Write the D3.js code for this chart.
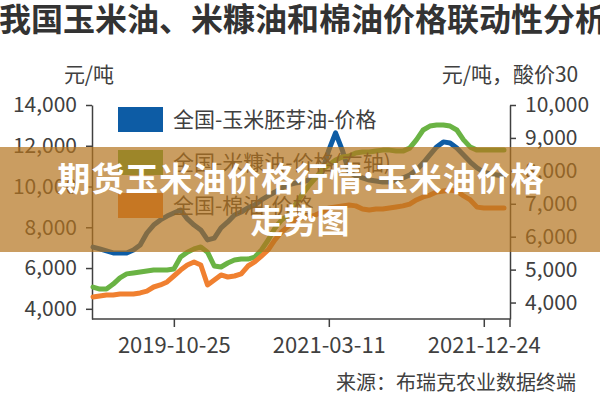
<!DOCTYPE html>
<html>
<head>
<meta charset="utf-8">
<script src="https://cdn.jsdelivr.net/npm/d3@7"></script>
<style>
body { margin: 0; background: #fff; }
svg { display: block; font-family: "Noto Sans CJK SC", sans-serif; }
</style>
</head>
<body>
<div id="chart"></div>
<script>
// x axis is a category axis, labels every 23 points
var tickLabels = ["2019-10-25", "2021-03-11", "2021-12-24"];
var tickIndex = [12, 35, 58];

var leftTicks = [4000, 6000, 8000, 10000, 12000, 14000];
var rightTicks = [4000, 5000, 6000, 7000, 8000, 9000, 10000];

var seriesNames = ["全国-玉米胚芽油-价格", "全国-米糠油-价格(右轴)", "全国-棉油-价格"];

// 玉米胚芽油 (left axis)
var cornOil = [7030, 6940, 6840, 6740, 6740, 6740, 6890, 7130, 7720, 8110,
	8360, 8550, 8700, 8850, 8410, 8110, 7870, 7380, 7470, 7970,
	8260, 8600, 8750, 8950, 9090, 9340, 9540, 9730, 9930, 10080,
	10170, 10220, 10320, 10420, 10710, 11790, 12630, 11790, 10710, 10520,
	10420, 10320, 10270, 10220, 10220, 10320, 10420, 10570, 10810, 11150,
	11550, 11940, 12190, 12140, 11890, 11550, 11200, 10910, 10710, 10620,
	10570, 10520];

// 米糠油 (right axis)
var riceOil = [4470, 4410, 4410, 4560, 4750, 4870, 4900, 4930, 4960, 4990,
	4990, 4990, 5020, 5380, 5530, 5630, 5690, 5530, 5110, 5080,
	5200, 5290, 5320, 5320, 5380, 5600, 5900, 6260, 6510, 6660,
	6960, 7270, 7540, 7780, 8030, 8180, 8330, 8420, 8450, 8540,
	8570, 8570, 8600, 8630, 8630, 8600, 8600, 8690, 8940, 9240,
	9360, 9390, 9390, 9360, 9240, 8940, 8720, 8630, 8630, 8630,
	8630, 8630];

// 棉油 (left axis)
var cottonOil = [4580, 4630, 4680, 4680, 4730, 4730, 4730, 4780, 4870, 5070,
	5170, 5320, 5610, 5900, 6150, 6300, 6150, 5170, 5410, 5660,
	5560, 5610, 5710, 6100, 6300, 6590, 6890, 7380, 7770, 8060,
	8360, 8460, 8510, 8600, 8750, 8950, 9000, 9050, 9090, 9050,
	8900, 8850, 8900, 8900, 8950, 9000, 9050, 9140, 9340, 9490,
	9580, 9730, 9780, 9830, 9780, 9540, 9340, 8990, 8950, 8950,
	8950, 8950];

var colors = ["#0d5ca5", "#6ab344", "#f08030"];
var textColor = "#404040";

var svg = d3.select("#chart").append("svg")
	.attr("width", 600)
	.attr("height", 400);

var plot = { left: 92, right: 510, top: 105, bottom: 319 };

var x = d3.scaleLinear().domain([0, cornOil.length - 1]).range([93, 504]);
var yL = d3.scaleLinear().domain([3500, 14000]).range([plot.bottom, plot.top]);
var yR = d3.scaleLinear().domain([3500, 10000]).range([plot.bottom, plot.top]);

// title + units
svg.append("text")
	.attr("x", 303).attr("y", 31)
	.attr("text-anchor", "middle")
	.attr("font-size", 32).attr("font-weight", 700)
	.attr("fill", "#333")
	.text("我国玉米油、米糠油和棉油价格联动性分析");

svg.append("text")
	.attr("x", 89).attr("y", 82)
	.attr("text-anchor", "middle")
	.attr("font-size", 21).attr("fill", textColor)
	.text("元/吨");

svg.append("text")
	.attr("x", 510).attr("y", 82)
	.attr("text-anchor", "middle")
	.attr("font-size", 21).attr("fill", textColor)
	.text("元/吨，酸价30");

// axes
function styleAxis(g) {
	g.selectAll("path, line").attr("stroke", "#404040").attr("stroke-width", 1.5);
	g.selectAll("text").attr("fill", textColor).attr("font-size", 21)
		.attr("font-family", "\"Noto Sans CJK SC\", sans-serif");
}

svg.append("g")
	.attr("transform", "translate(" + plot.left + ",0)")
	.call(d3.axisLeft(yL).tickValues(leftTicks).tickFormat(d3.format(","))
		.tickSize(6).tickSizeOuter(0).tickPadding(9))
	.call(styleAxis);

svg.append("g")
	.attr("transform", "translate(" + plot.right + ",0)")
	.call(d3.axisRight(yR).tickValues(rightTicks).tickFormat(d3.format(","))
		.tickSize(6).tickSizeOuter(0).tickPadding(9))
	.call(styleAxis);

var xg = svg.append("g")
	.attr("transform", "translate(0," + plot.bottom + ")")
	.call(d3.axisBottom(x).tickValues(tickIndex)
		.tickFormat(function(d, i) { return tickLabels[i]; })
		.tickSize(8).tickSizeOuter(0).tickPadding(10))
	.call(styleAxis);
xg.select(".domain").remove();
xg.selectAll("text").attr("font-size", 22);

svg.append("line")
	.attr("x1", plot.left).attr("x2", plot.right)
	.attr("y1", plot.bottom).attr("y2", plot.bottom)
	.attr("stroke", "#404040").attr("stroke-width", 1.5);
svg.append("line")
	.attr("x1", plot.right).attr("x2", plot.right)
	.attr("y1", plot.bottom).attr("y2", plot.bottom + 8)
	.attr("stroke", "#404040").attr("stroke-width", 1.5);

// lines
var series = [
	{ values: cornOil, y: yL },
	{ values: riceOil, y: yR },
	{ values: cottonOil, y: yL }
];

series.forEach(function(s, k) {
	var line = d3.line()
		.x(function(d, i) { return x(i); })
		.y(function(d) { return s.y(d); });
	svg.append("path")
		.datum(s.values)
		.attr("d", line)
		.attr("fill", "none")
		.attr("stroke", colors[k])
		.attr("stroke-width", 5)
		.attr("stroke-linejoin", "round")
		.attr("stroke-linecap", "round");
});

// legend
var legend = svg.selectAll(".legend")
	.data(seriesNames)
	.enter().append("g")
	.attr("transform", function(d, i) { return "translate(118," + (107 + i * 43) + ")"; });
legend.append("rect")
	.attr("width", 45).attr("height", 25)
	.attr("fill", function(d, i) { return colors[i]; });
legend.append("text")
	.attr("x", 55).attr("y", 20)
	.attr("font-size", 21).attr("fill", textColor)
	.text(function(d) { return d; });

// source
svg.append("text")
	.attr("x", 336).attr("y", 390)
	.attr("font-size", 20).attr("fill", textColor)
	.text("来源：布瑞克农业数据终端");

// overlay banner
svg.append("rect")
	.attr("x", 0).attr("y", 147)
	.attr("width", 600).attr("height", 105)
	.attr("fill", "rgb(180,115,30)")
	.attr("fill-opacity", 0.7);

svg.append("text")
	.attr("x", 301).attr("y", 191)
	.attr("text-anchor", "middle")
	.attr("font-size", 33).attr("font-weight", 700)
	.attr("letter-spacing", 1)
	.attr("fill", "#fff")
	.text("期货玉米油价格行情:玉米油价格");

svg.append("text")
	.attr("x", 300).attr("y", 233)
	.attr("text-anchor", "middle")
	.attr("font-size", 33).attr("font-weight", 700)
	.attr("fill", "#fff")
	.text("走势图");
</script>
</body>
</html>
